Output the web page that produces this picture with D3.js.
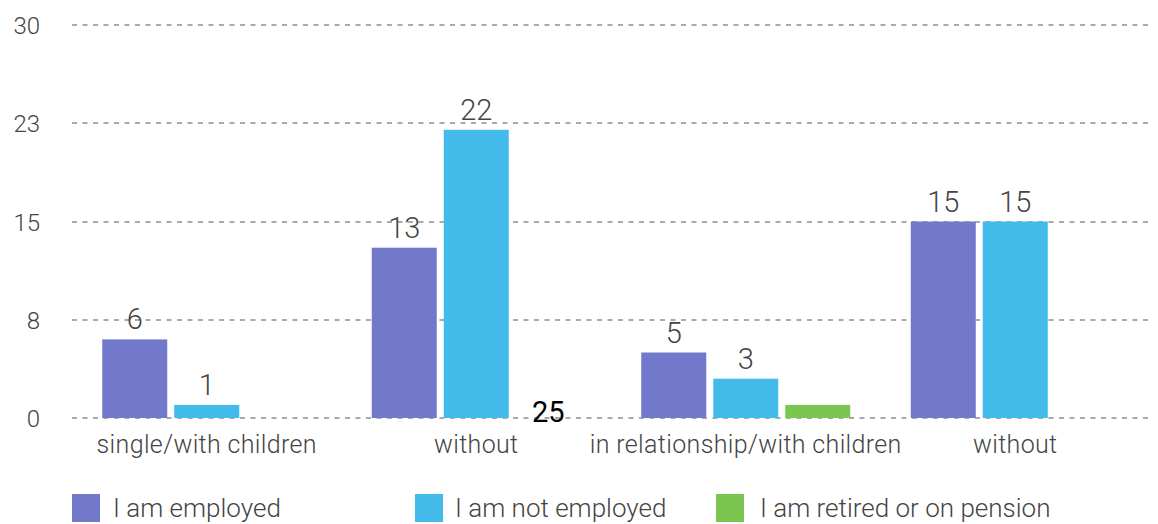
<!DOCTYPE html>
<html><head><meta charset="utf-8">
<script src="https://cdn.jsdelivr.net/npm/d3@7"></script>
<style>
html,body{margin:0;padding:0;background:#fff;}
svg text{font-family:"Roboto","Liberation Sans",sans-serif;}
</style></head>
<body><svg id="c" width="1158" height="524"></svg>
<script>
const categories = ["single/with children", "without", "in relationship/with children", "without "];
const seriesNames = ["I am employed", "I am not employed", "I am retired or on pension"];
const employed = [6, 13, 5, 15];
const notEmployed = [1, 22, 3, 15];
const retired = [0, 0, 1, 0];
const employedLabels = ["6", "13", "5", "15"];
const notEmployedLabels = ["1", "22", "3", "15"];
const retiredLabels = ["", "25", "", ""];
const colors = ["#7279cb", "#42bbea", "#7ac651"];
const yTicks = [0, 7.5, 15, 22.5, 30];
const yTickLabels = ["0", "8", "15", "23", "30"];

(function () {
const svg = d3.select("#c");
const mLeft = 72, mRight = 1150, mTop = 25, mBottom = 418;
const y = d3.scaleLinear().domain([0, 30]).range([mBottom, mTop]);
const x0 = d3.scaleBand().domain(categories).range([mLeft, mRight]).padding(0);
const groupW = 209;
const x1 = d3.scaleBand().domain(seriesNames).range([0, groupW]).paddingInner(0.097).paddingOuter(0);
const off = (x0.bandwidth() - groupW) / 2;

svg.append("g").selectAll("line").data(yTicks).join("line")
  .attr("x1", mLeft).attr("x2", mRight)
  .attr("y1", d => Math.round(y(d))).attr("y2", d => Math.round(y(d)))
  .attr("stroke", "#aaa").attr("stroke-width", 2).attr("stroke-dasharray", "5,5.5");

svg.append("g").selectAll("text").data(yTicks).join("text")
  .attr("x", 40).attr("y", d => y(d) + 9)
  .attr("text-anchor", "end").attr("font-size", 24).attr("font-weight", 300).attr("fill", "#444")
  .text((d, i) => yTickLabels[i]);

const data = [employed, notEmployed, retired];
const labels = [employedLabels, notEmployedLabels, retiredLabels];

seriesNames.forEach((s, si) => {
  const g = svg.append("g");
  g.selectAll("rect").data(categories).join("rect")
    .attr("x", c => x0(c) + off + x1(s))
    .attr("width", x1.bandwidth())
    .attr("y", (c, i) => y(data[si][i]))
    .attr("height", (c, i) => y(0) - y(data[si][i]))
    .attr("fill", colors[si]);
  g.selectAll("text").data(categories).join("text")
    .attr("x", c => x0(c) + off + x1(s) + x1.bandwidth() / 2)
    .attr("y", (c, i) => data[si][i] === 0 ? y(0) + 4 : y(data[si][i]) - 10)
    .attr("text-anchor", "middle").attr("font-size", 29)
    .attr("font-weight", (c, i) => data[si][i] === 0 ? 400 : 300)
    .attr("fill", (c, i) => data[si][i] === 0 ? "#000" : "#444")
    .text((c, i) => labels[si][i]);
});

svg.append("g").selectAll("text").data(categories).join("text")
  .attr("x", c => x0(c) + x0.bandwidth() / 2)
  .attr("y", 453)
  .attr("text-anchor", "middle").attr("font-size", 25).attr("font-weight", 300)
  .attr("letter-spacing", 0.35).attr("fill", "#444")
  .text(c => c.trim());

const legX = [72, 415, 716];
const legTextX = [113, 455, 760];
const lg = svg.append("g");
seriesNames.forEach((s, i) => {
  lg.append("rect").attr("x", legX[i]).attr("y", 494).attr("width", 28).attr("height", 28).attr("fill", colors[i]);
  lg.append("text").attr("x", legTextX[i]).attr("y", 517)
    .attr("font-size", 26).attr("font-weight", 300).attr("fill", "#444").text(s);
});
})();
</script></body></html>
